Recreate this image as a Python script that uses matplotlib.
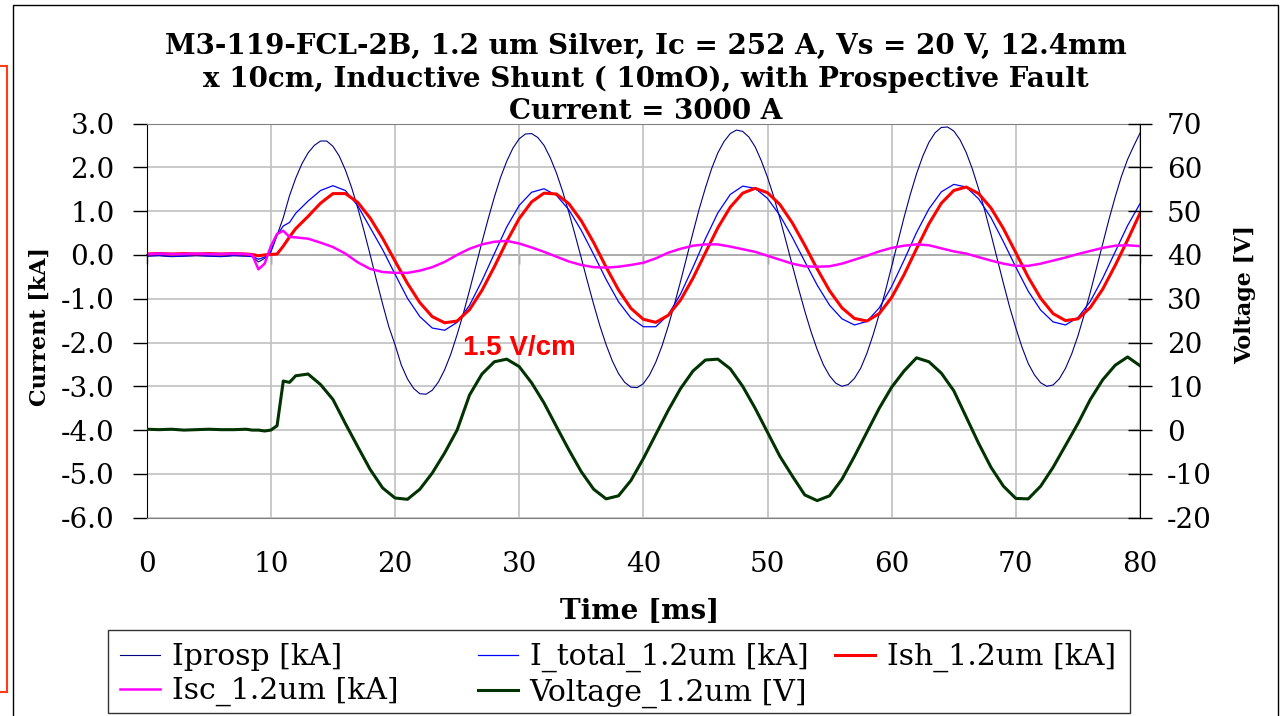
import matplotlib.pyplot as plt
from matplotlib.patches import Rectangle
from matplotlib.ticker import FormatStrFormatter

# time axis, ms
time_ms = [0, 1, 2, 3, 4, 5, 6, 7, 8, 8.5, 9, 9.5, 10, 10.5, 11, 11.5,
           12, 13, 14, 15, 16, 17, 18, 19, 20, 21, 22, 23, 24, 25, 26, 27,
           28, 29, 30, 31, 32, 33, 34, 35, 36, 37, 38, 39, 40, 41, 42, 43,
           44, 45, 46, 47, 48, 49, 50, 51, 52, 53, 54, 55, 56, 57, 58, 59,
           60, 61, 62, 63, 64, 65, 66, 67, 68, 69, 70, 71, 72, 73, 74, 75,
           76, 77, 78, 79, 80]

# Iprosp is read on a finer time step (largest swing)
time_iprosp_ms = [0, 1, 2, 3, 4, 5, 6, 7, 8, 8.5, 9, 9.5, 10, 10.5, 11, 11.5,
                  12, 12.5, 13, 13.5, 14, 14.5, 15, 15.5, 16, 16.5, 17, 17.5, 18, 18.5, 19, 19.5,
                  20, 20.5, 21, 21.5, 22, 22.5, 23, 23.5, 24, 24.5, 25, 25.5, 26, 26.5, 27, 27.5,
                  28, 28.5, 29, 29.5, 30, 30.5, 31, 31.5, 32, 32.5, 33, 33.5, 34, 34.5, 35, 35.5,
                  36, 36.5, 37, 37.5, 38, 38.5, 39, 39.5, 40, 40.5, 41, 41.5, 42, 42.5, 43, 43.5,
                  44, 44.5, 45, 45.5, 46, 46.5, 47, 47.5, 48, 48.5, 49, 49.5, 50, 50.5, 51, 51.5,
                  52, 52.5, 53, 53.5, 54, 54.5, 55, 55.5, 56, 56.5, 57, 57.5, 58, 58.5, 59, 59.5,
                  60, 60.5, 61, 61.5, 62, 62.5, 63, 63.5, 64, 64.5, 65, 65.5, 66, 66.5, 67, 67.5,
                  68, 68.5, 69, 69.5, 70, 70.5, 71, 71.5, 72, 72.5, 73, 73.5, 74, 74.5, 75, 75.5,
                  76, 76.5, 77, 77.5, 78, 78.5, 79, 79.5, 80]

iprosp_ka = [-0.03, -0.02, -0.04, -0.03, -0.02, -0.03, -0.04, -0.02, -0.03, -0.04, -0.16, -0.08, 0.08, 0.45, 0.85, 1.35,
             1.75, 2.08, 2.33, 2.5, 2.6, 2.6, 2.48, 2.26, 1.94, 1.54, 1.07, 0.55, 0.0, -0.57, -1.12, -1.64,
             -2.05, -2.51, -2.83, -3.05, -3.17, -3.18, -3.09, -2.9, -2.62, -2.26, -1.82, -1.34, -0.81, -0.26, 0.29, 0.82,
             1.32, 1.77, 2.14, 2.44, 2.65, 2.76, 2.77, 2.68, 2.5, 2.22, 1.87, 1.45, 0.97, 0.46, -0.07, -0.61,
             -1.13, -1.62, -2.05, -2.42, -2.71, -2.91, -3.02, -3.03, -2.94, -2.74, -2.45, -2.08, -1.63, -1.13, -0.6, -0.04,
             0.51, 1.05, 1.53, 1.97, 2.33, 2.59, 2.77, 2.85, 2.82, 2.69, 2.47, 2.15, 1.77, 1.33, 0.83, 0.3,
             -0.24, -0.77, -1.28, -1.75, -2.16, -2.51, -2.76, -2.93, -3.0, -2.96, -2.82, -2.59, -2.25, -1.83, -1.35, -0.82,
             -0.26, 0.31, 0.86, 1.38, 1.85, 2.25, 2.57, 2.79, 2.91, 2.92, 2.83, 2.63, 2.34, 1.96, 1.51, 1.01,
             0.47, -0.09, -0.65, -1.19, -1.67, -2.11, -2.48, -2.74, -2.92, -3.0, -2.97, -2.83, -2.59, -2.26, -1.85, -1.37,
             -0.85, -0.3, 0.26, 0.81, 1.32, 1.79, 2.18, 2.49, 2.78]

itotal_ka = [-0.02, -0.01, -0.03, -0.02, -0.01, -0.02, -0.03, -0.01, -0.02, -0.03, -0.1, -0.05, 0.07, 0.45, 0.66, 0.74,
             0.95, 1.23, 1.47, 1.58, 1.47, 1.12, 0.62, 0.12, -0.44, -0.99, -1.41, -1.67, -1.72, -1.54, -1.15, -0.59,
             0.03, 0.64, 1.13, 1.43, 1.51, 1.36, 1.03, 0.56, 0.01, -0.56, -1.07, -1.44, -1.64, -1.64, -1.37, -0.89,
             -0.28, 0.37, 0.96, 1.38, 1.57, 1.52, 1.29, 0.9, 0.4, -0.15, -0.69, -1.15, -1.46, -1.6, -1.52, -1.21,
             -0.72, -0.12, 0.51, 1.05, 1.44, 1.61, 1.55, 1.28, 0.85, 0.3, -0.28, -0.83, -1.26, -1.53, -1.6, -1.43,
             -1.06, -0.53, 0.07, 0.67, 1.17]

ish_ka = [0.02, 0.03, 0.02, 0.03, 0.02, 0.03, 0.02, 0.03, 0.02, 0.01, -0.02, 0.0, 0.01, 0.02, 0.2, 0.41,
          0.6, 0.88, 1.18, 1.4, 1.4, 1.2, 0.84, 0.38, -0.14, -0.65, -1.09, -1.41, -1.55, -1.51, -1.25, -0.81,
          -0.27, 0.31, 0.83, 1.21, 1.41, 1.39, 1.17, 0.78, 0.28, -0.28, -0.8, -1.22, -1.47, -1.54, -1.38, -1.03,
          -0.53, 0.05, 0.62, 1.09, 1.41, 1.52, 1.42, 1.15, 0.73, 0.22, -0.32, -0.82, -1.21, -1.45, -1.51, -1.34,
          -0.97, -0.45, 0.14, 0.71, 1.18, 1.47, 1.55, 1.4, 1.07, 0.6, 0.05, -0.51, -0.99, -1.34, -1.5, -1.46,
          -1.2, -0.78, -0.24, 0.34, 0.95]

isc_ka = [0.02, 0.03, 0.02, 0.02, 0.03, 0.02, 0.02, 0.03, 0.02, 0.0, -0.33, -0.2, 0.2, 0.48, 0.55, 0.41,
          0.4, 0.37, 0.28, 0.18, 0.03, -0.17, -0.32, -0.39, -0.41, -0.41, -0.36, -0.28, -0.16, 0.0, 0.14, 0.24,
          0.3, 0.32, 0.26, 0.17, 0.07, -0.04, -0.15, -0.23, -0.28, -0.29, -0.27, -0.23, -0.18, -0.08, 0.05, 0.14,
          0.21, 0.24, 0.24, 0.19, 0.13, 0.07, -0.02, -0.11, -0.2, -0.26, -0.27, -0.26, -0.2, -0.11, -0.02, 0.08,
          0.16, 0.21, 0.24, 0.22, 0.15, 0.08, 0.03, -0.05, -0.13, -0.2, -0.25, -0.25, -0.2, -0.13, -0.06, 0.02,
          0.09, 0.16, 0.21, 0.22, 0.2]

voltage_v = [0.2, 0.1, 0.2, 0.0, 0.1, 0.2, 0.1, 0.1, 0.2, 0.0, 0.0, -0.2, 0.0, 1.0, 11.2, 10.9,
             12.4, 12.8, 10.4, 7.0, 1.5, -3.8, -9.0, -13.2, -15.5, -15.8, -13.5, -9.8, -5.2, 0.0, 8.0, 12.8,
             15.6, 16.2, 14.5, 10.8, 6.2, 0.8, -4.5, -9.5, -13.5, -15.7, -15.0, -11.5, -6.5, -1.0, 4.5, 9.5,
             13.5, 16.0, 16.2, 14.0, 10.0, 5.0, -0.5, -6.0, -10.5, -14.8, -16.1, -15.0, -11.2, -6.0, -0.5, 5.0,
             9.8, 13.5, 16.5, 15.6, 13.0, 9.0, 3.0, -3.0, -8.5, -12.8, -15.6, -15.7, -12.8, -8.5, -3.5, 1.5,
             7.0, 11.5, 14.8, 16.7, 14.7]

x_ticks = [0, 10, 20, 30, 40, 50, 60, 70, 80]
ka_ticks = [-6, -5, -4, -3, -2, -1, 0, 1, 2, 3]
v_ticks = [-20, -10, 0, 10, 20, 30, 40, 50, 60, 70]

title = ('M3-119-FCL-2B, 1.2 um Silver, Ic = 252 A, Vs = 20 V, 12.4mm\n'
         'x 10cm, Inductive Shunt ( 10mO), with Prospective Fault\n'
         'Current = 3000 A')

plt.rcParams['font.family'] = ['DejaVu Serif']
plt.rcParams['axes.unicode_minus'] = False

W, H = 1283, 716
fig = plt.figure(figsize=(W / 100, H / 100), dpi=100)
ax = fig.add_axes([146.7 / W, 1 - 517.7 / H, 993.3 / W, 394.2 / H])
ax2 = ax.twinx()

l1, = ax.plot(time_iprosp_ms, iprosp_ka, color='#000080', lw=0.8, label='Iprosp [kA]')
l2, = ax.plot(time_ms, itotal_ka, color='#0000ff', lw=0.9, label='I_total_1.2um [kA]')
l3, = ax.plot(time_ms, ish_ka, color='#ff0000', lw=2.2, label='Ish_1.2um [kA]')
l4, = ax.plot(time_ms, isc_ka, color='#ff00ff', lw=1.8, label='Isc_1.2um [kA]')
l5, = ax2.plot(time_ms, voltage_v, color='#003300', lw=2.2, label='Voltage_1.2um [V]')

ax.set_xlim(0, 80)
ax.set_ylim(-6, 3)
ax2.set_ylim(-20, 70)
ax.set_xticks(x_ticks)
ax.set_yticks(ka_ticks)
ax2.set_yticks(v_ticks)
ax.yaxis.set_major_formatter(FormatStrFormatter('%.1f'))

ax.grid(True, color='#c0c0c0', lw=1.2)
ax.set_axisbelow(True)

ax.tick_params(axis='y', direction='out', length=10, width=1, pad=13, labelsize=20)
ax.tick_params(axis='x', length=0, pad=24, labelsize=20)
ax2.tick_params(axis='y', direction='inout', length=17, width=1, pad=11, labelsize=20)

ax.spines['top'].set_color('#808080')
ax.spines['bottom'].set_color('#808080')
ax.spines['right'].set_visible(False)
for s in ['left', 'top', 'bottom']:
    ax2.spines[s].set_visible(False)

# zero line with small ticks, like the excel category axis
sec = ax.secondary_xaxis(0, transform=ax.transData)
sec.set_alignment('bottom')
sec.set_xticks(x_ticks)
sec.tick_params(axis='x', direction='out', length=6.5, width=1, color='#404040',
                labelbottom=False, labeltop=False)
for s in ['top', 'bottom']:
    sec.spines[s].set_color('#404040')
    sec.spines[s].set_linewidth(1.3)

ax.set_xlabel('Time [ms]', fontsize=20, fontweight='bold')
ax.xaxis.set_label_coords(0.4966, -0.203)
ax.set_ylabel('Current [kA]', fontsize=16, fontweight='bold', va='center')
ax.yaxis.set_label_coords(-0.108, 0.486)
ax2.set_ylabel('Voltage [V]', fontsize=16, fontweight='bold', va='center', rotation=90)
ax2.yaxis.set_label_coords(1.106, 0.565)

ax.text(25.47, -2.285, '1.5 V/cm', color='#ff0000', fontsize=20, fontweight='bold',
        family='Liberation Sans', ha='left', va='baseline')

fig.text(646 / W, 1 - 79 / H, title, ha='center', va='center', fontsize=20,
         fontweight='bold', linespacing=1.25)

# legend: three columns placed like the excel legend
cols = [([l1, l4], 120), ([l2, l5], 478), ([l3], 835)]
for handles, x0 in cols:
    fig.legend(handles=handles, loc='upper left', bbox_to_anchor=(x0 / W, 1 - 643 / H),
               borderaxespad=0, borderpad=0, frameon=False, handlelength=1.33,
               handletextpad=0.4, labelspacing=0.2, fontsize=21.5)

fig.add_artist(Rectangle((108 / W, 1 - 713 / H), 1022 / W, 83 / H, transform=fig.transFigure,
                         fill=False, edgecolor='#333333', lw=1))
fig.add_artist(Rectangle((13 / W, -0.01), 1265 / W, 1.01 - 5 / H, transform=fig.transFigure,
                         fill=False, edgecolor='black', lw=1))
fig.add_artist(Rectangle((-0.01, 1 - 692 / H), 7 / W + 0.01, 626 / H, transform=fig.transFigure,
                         fill=False, edgecolor='#ff3c14', lw=1.5))

fig.savefig('out.png', dpi=100)
